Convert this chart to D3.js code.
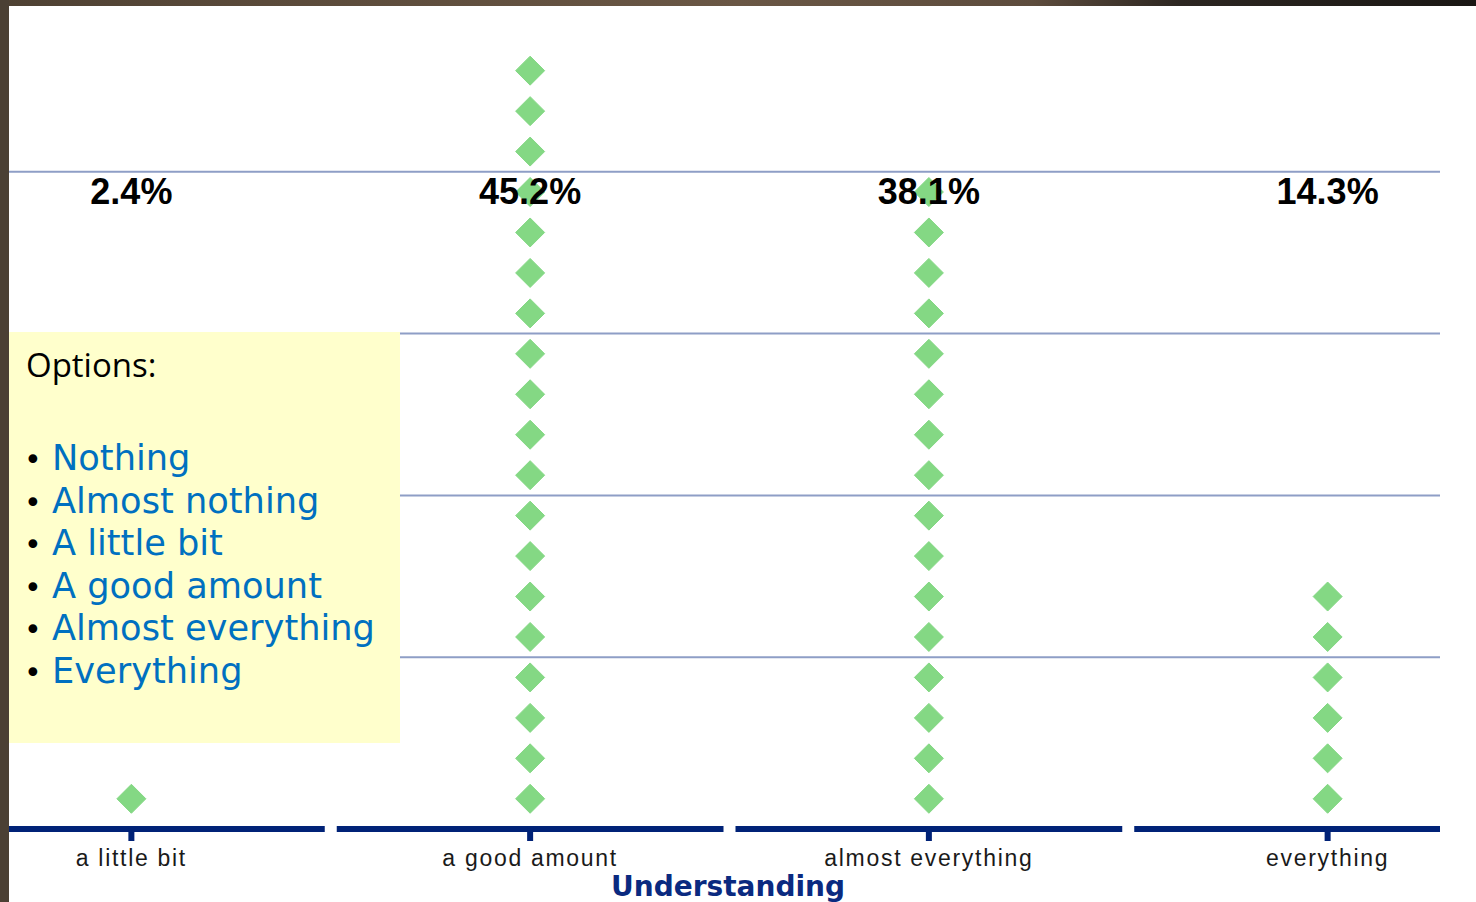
<!DOCTYPE html>
<html>
<head>
<meta charset="utf-8">
<script src="https://cdn.jsdelivr.net/npm/d3@7"></script>
<style>
  html, body { margin: 0; padding: 0; background: #ffffff; overflow: hidden; }
  svg { display: block; }
</style>
</head>
<body>
<svg id="chart" width="1476" height="902"></svg>
<script>
// Survey responses: how much of the material was understood
const categories = ["a little bit", "a good amount", "almost everything", "everything"];
const counts = [1, 19, 16, 6];
const gridTicks = [4, 8, 12, 16];
const axisTitle = "Understanding";
const optionsHeading = "Options:";
const optionItems = ["Nothing", "Almost nothing", "A little bit", "A good amount", "Almost everything", "Everything"];

const W = 1476, H = 902;
const plot = { left: 9, right: 1440, top: 6, bottom: 819 };

const svg = d3.select("#chart");

// slide frame: dark top strip and left edge
const defs = svg.append("defs");
const grad = defs.append("linearGradient").attr("id", "frameTop").attr("x1", 0).attr("x2", 1).attr("y1", 0).attr("y2", 0);
[[0, "#4e4133"], [0.18, "#5a4a3a"], [0.5, "#6a5745"], [0.7, "#5d4c3d"], [0.8, "#2c2621"], [1, "#1a1714"]]
  .forEach(([o, c]) => grad.append("stop").attr("offset", o).attr("stop-color", c));

svg.append("rect").attr("x", 0).attr("y", 0).attr("width", W).attr("height", H).attr("fill", "#ffffff");
svg.append("rect").attr("x", 0).attr("y", 0).attr("width", W).attr("height", 6).attr("fill", "url(#frameTop)");
svg.append("rect").attr("x", 0).attr("y", 0).attr("width", 9).attr("height", H).attr("fill", "#4b4034");

defs.append("clipPath").attr("id", "plotClip")
  .append("rect").attr("x", plot.left).attr("y", 0).attr("width", plot.right - plot.left).attr("height", H);

// scales
const x = d3.scaleBand().domain(categories).range([-68, 1527]).padding(0);
const y = d3.scaleLinear().domain([0, 20]).range([plot.bottom, 10]);
const cx = c => x(c) + x.bandwidth() / 2;

// horizontal gridlines
svg.append("g").selectAll("line").data(gridTicks).join("line")
  .attr("x1", plot.left).attr("x2", plot.right)
  .attr("y1", d => y(d)).attr("y2", d => y(d))
  .attr("stroke", "#8e9ec6").attr("stroke-width", 2);

// options panel
const panel = svg.append("g");
panel.append("rect").attr("x", 9).attr("y", 332).attr("width", 391).attr("height", 411).attr("fill", "#ffffcc");
panel.append("text").attr("x", 26).attr("y", 377)
  .attr("font-family", "'Open Sans', 'Noto Sans', sans-serif").attr("font-size", 33).attr("fill", "#000")
  .text(optionsHeading);
const items = panel.selectAll("g.item").data(optionItems).join("g").attr("class", "item")
  .attr("transform", (d, i) => `translate(0, ${470 + i * 42.6})`);
items.append("text").attr("x", 24).attr("y", 0)
  .attr("font-family", "'DejaVu Sans', sans-serif").attr("font-size", 30).attr("fill", "#000")
  .text("\u2022");
items.append("text").attr("x", 52).attr("y", 0)
  .attr("font-family", "'DejaVu Sans', Verdana, sans-serif").attr("font-size", 35.2).attr("fill", "#0070c0")
  .text(d => d);

// dots: one diamond per response, stacked from the baseline
const dotData = [];
categories.forEach((c, ci) => {
  for (let k = 1; k <= counts[ci]; k++) dotData.push({ cat: c, k });
});
const r = 14.5;
const diamond = `M0,${-r}L${r},0L0,${r}L${-r},0Z`;
svg.append("g").selectAll("path").data(dotData).join("path")
  .attr("d", diamond)
  .attr("transform", d => `translate(${cx(d.cat)},${y(d.k - 0.5)})`)
  .attr("fill", "#84d884")
  .attr("stroke", "#84d884").attr("stroke-width", 1).attr("stroke-linejoin", "round");

// percentage labels
const total = d3.sum(counts);
const pct = d3.format(".1%");
svg.append("g").selectAll("text").data(categories).join("text")
  .attr("x", d => cx(d)).attr("y", 204)
  .attr("text-anchor", "middle")
  .attr("font-family", "'Liberation Sans', Arial, sans-serif").attr("font-weight", "bold")
  .attr("font-size", 36).attr("fill", "#000")
  .text((d, i) => pct(counts[i] / total));

// category axis: a segment per band with a centre tick
const axis = svg.append("g").attr("clip-path", "url(#plotClip)");
axis.selectAll("rect.seg").data(categories).join("rect").attr("class", "seg")
  .attr("x", d => x(d) + 6).attr("width", x.bandwidth() - 12)
  .attr("y", 826).attr("height", 6).attr("fill", "#002277");
axis.selectAll("rect.tick").data(categories).join("rect").attr("class", "tick")
  .attr("x", d => cx(d) - 3).attr("width", 6)
  .attr("y", 826).attr("height", 15).attr("fill", "#002277");

svg.append("g").selectAll("text").data(categories).join("text")
  .attr("x", d => cx(d)).attr("y", 866)
  .attr("text-anchor", "middle")
  .attr("font-family", "'Liberation Sans', Arial, sans-serif")
  .attr("font-size", 23).attr("letter-spacing", 1.7).attr("fill", "#1a1a1a")
  .text(d => d);

svg.append("text").attr("x", 728).attr("y", 896)
  .attr("text-anchor", "middle")
  .attr("font-family", "'DejaVu Sans', Verdana, sans-serif").attr("font-weight", "bold")
  .attr("font-size", 28).attr("fill", "#0a2a80")
  .text(axisTitle);
</script>
</body>
</html>
